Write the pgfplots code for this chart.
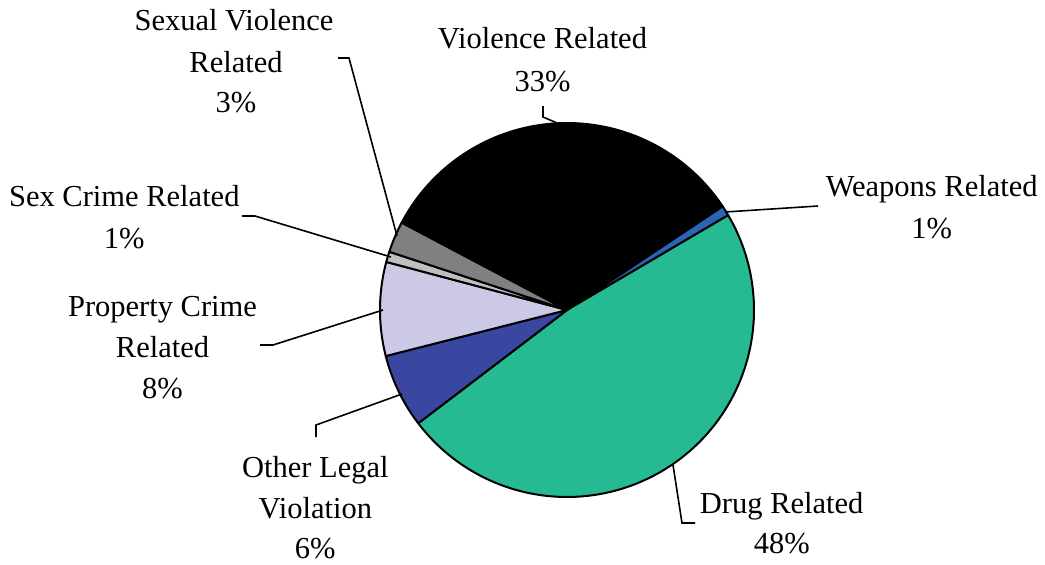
\documentclass[border=0pt]{standalone}
\usepackage{pgfplots}
\pgfplotsset{compat=1.18}
\usepackage{fontspec}
\setmainfont{Liberation Serif}
\definecolor{cWeap}{RGB}{43,99,181}
\definecolor{cDrug}{RGB}{38,186,147}
\definecolor{cOther}{RGB}{58,71,160}
\definecolor{cProp}{RGB}{203,201,229}
\definecolor{cSexC}{RGB}{191,191,191}
\definecolor{cSexV}{RGB}{128,128,128}
\definecolor{cViol}{RGB}{0,0,0}
% shares in percent, clockwise from the start angle
\def\vWeap{0.9}
\def\vDrug{48.1}
\def\vOther{6.4}
\def\vProp{8.1}
\def\vSexC{0.9}
\def\vSexV{2.7}
\def\vViol{32.9}
\def\cx{567}\def\cy{310}\def\rr{187}
\pgfmathsetmacro\aA{33.7}
\pgfmathsetmacro\aB{\aA-3.6*\vWeap}
\pgfmathsetmacro\aC{\aB-3.6*\vDrug}
\pgfmathsetmacro\aD{\aC-3.6*\vOther}
\pgfmathsetmacro\aE{\aD-3.6*\vProp}
\pgfmathsetmacro\aF{\aE-3.6*\vSexC}
\pgfmathsetmacro\aG{\aF-3.6*\vSexV}
\pgfmathsetmacro\aH{\aG-3.6*\vViol}
\tikzset{lab/.style={font=\fontsize{30.5}{41}\selectfont, inner sep=0pt, anchor=base}}
\begin{document}
\begin{tikzpicture}
\useasboundingbox (0,0) rectangle (1045pt,565pt);
\begin{axis}[
  width=1045pt, height=565pt, scale only axis,
  xmin=0, xmax=1045, ymin=0, ymax=565, y dir=reverse,
  hide axis, clip=false,
]
\pgfplotsset{slice/.style={draw=black, line width=2pt, line join=round, samples=120, variable=\t}}
\addplot[slice, fill=cWeap, domain=\aB:\aA] ({\cx+\rr*cos(t)},{\cy-\rr*sin(t)}) -- (\cx,\cy) -- cycle;
\addplot[slice, fill=cDrug, domain=\aC:\aB] ({\cx+\rr*cos(t)},{\cy-\rr*sin(t)}) -- (\cx,\cy) -- cycle;
\addplot[slice, fill=cOther, domain=\aD:\aC] ({\cx+\rr*cos(t)},{\cy-\rr*sin(t)}) -- (\cx,\cy) -- cycle;
\addplot[slice, fill=cProp, domain=\aE:\aD] ({\cx+\rr*cos(t)},{\cy-\rr*sin(t)}) -- (\cx,\cy) -- cycle;
\addplot[slice, fill=cSexC, domain=\aF:\aE] ({\cx+\rr*cos(t)},{\cy-\rr*sin(t)}) -- (\cx,\cy) -- cycle;
\addplot[slice, fill=cSexV, domain=\aG:\aF] ({\cx+\rr*cos(t)},{\cy-\rr*sin(t)}) -- (\cx,\cy) -- cycle;
\addplot[slice, fill=cViol, domain=\aH:\aG] ({\cx+\rr*cos(t)},{\cy-\rr*sin(t)}) -- (\cx,\cy) -- cycle;
% leader lines
\pgfplotsset{lead/.style={draw=black, line width=1.6pt, no marks}}
\addplot[lead] coordinates {(338,58) (349,58) (397,236)};
\addplot[lead] coordinates {(543,106) (543,117) (557,123)};
\addplot[lead] coordinates {(725,212) (818,206)};
\addplot[lead] coordinates {(242,216) (255,216) (391,257)};
\addplot[lead] coordinates {(260,345) (273,345) (383,310)};
\addplot[lead] coordinates {(316,437) (316,425) (402,394)};
\addplot[lead] coordinates {(673,465) (682,523) (695,523)};
% labels
\node[lab] at (axis cs:234,30) {Sexual Violence};
\node[lab] at (axis cs:236,72) {Related};
\node[lab] at (axis cs:236,112) {3\%};
\node[lab] at (axis cs:542.5,48) {Violence Related};
\node[lab] at (axis cs:542.5,91) {33\%};
\node[lab] at (axis cs:931.7,196) {Weapons Related};
\node[lab] at (axis cs:931.7,238) {1\%};
\node[lab] at (axis cs:124.3,206) {Sex Crime Related};
\node[lab] at (axis cs:124.3,248) {1\%};
\node[lab] at (axis cs:162.5,316) {Property Crime};
\node[lab] at (axis cs:162.5,357) {Related};
\node[lab] at (axis cs:162.5,398) {8\%};
\node[lab] at (axis cs:315.3,477) {Other Legal};
\node[lab] at (axis cs:315.3,518) {Violation};
\node[lab] at (axis cs:315.3,558) {6\%};
\node[lab] at (axis cs:781.7,513) {Drug Related};
\node[lab] at (axis cs:781.7,553) {48\%};
\end{axis}
\end{tikzpicture}
\end{document}
